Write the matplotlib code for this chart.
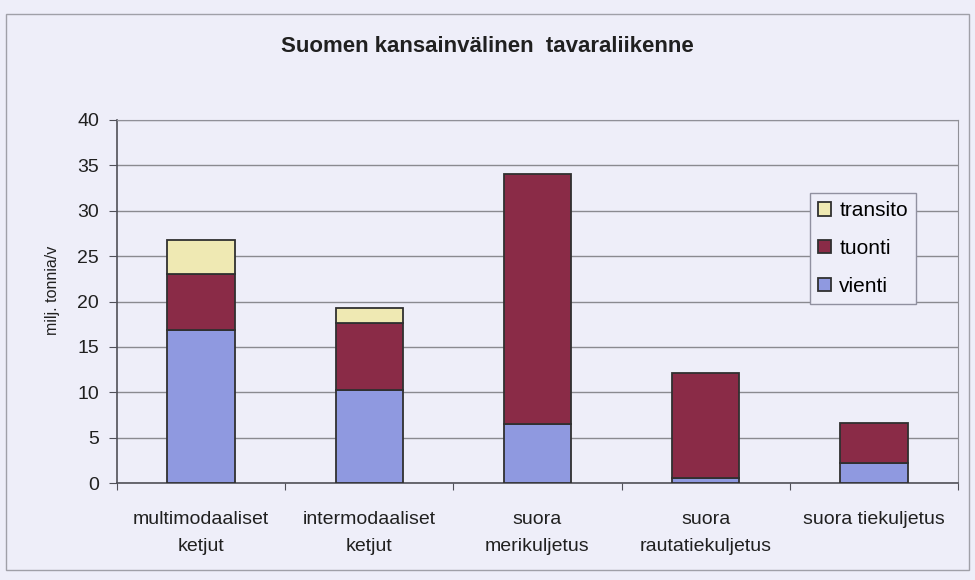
import matplotlib
matplotlib.use("Agg")
import matplotlib.pyplot as plt
from matplotlib.patches import Rectangle
import numpy as np

categories = ["multimodaaliset\nketjut", "intermodaaliset\nketjut", "suora\nmerikuljetus",
              "suora\nrautatiekuljetus", "suora tiekuljetus"]
vienti = [16.9, 10.3, 6.5, 0.5, 2.2]
tuonti = [6.1, 7.3, 27.5, 11.6, 4.4]
transito = [3.8, 1.7, 0.0, 0.0, 0.0]

bg = "#eeeef9"
c_vienti = "#8f99e0"
c_tuonti = "#8a2b47"
c_transito = "#efe9b3"

plt.rcParams["font.family"] = ["Liberation Sans", "DejaVu Sans"]

fig = plt.figure(figsize=(9.75, 5.8), dpi=100, facecolor=bg)
fig.patches.append(Rectangle((0.006, 0.018), 0.988, 0.958, transform=fig.transFigure,
                             fill=False, edgecolor="#a0a0a8", linewidth=1.0))
ax = fig.add_axes([117/975, 1-483/580, (958-117)/975, (483-120)/580])
ax.set_facecolor(bg)

x = np.arange(len(categories))
w = 0.4
kw = dict(width=w, edgecolor="#303030", linewidth=1.3, zorder=3)
b1 = ax.bar(x, vienti, color=c_vienti, label="vienti", **kw)
b2 = ax.bar(x, tuonti, bottom=vienti, color=c_tuonti, label="tuonti", **kw)
bot2 = np.array(vienti) + np.array(tuonti)
tr_x = [xi for xi, t in zip(x, transito) if t > 0]
tr_v = [t for t in transito if t > 0]
tr_b = [b for b, t in zip(bot2, transito) if t > 0]
b3 = ax.bar(tr_x, tr_v, bottom=tr_b, color=c_transito, label="transito", **kw)

ax.set_xlim(-0.5, len(categories) - 0.5)
ax.set_ylim(0, 40)
ax.set_yticks(np.arange(0, 41, 5))
ax.yaxis.grid(True, color="#8a8a90", linewidth=1.0, zorder=0)
ax.set_axisbelow(True)
for s in ["top", "right"]:
    ax.spines[s].set_color("#909098")
for s in ["left", "bottom"]:
    ax.spines[s].set_color("#505058")
    ax.spines[s].set_linewidth(1.2)

ax.set_xticks(np.arange(-0.5, len(categories), 1.0))
ax.set_xticklabels([])
ax.set_xticks(x, minor=True)
ax.set_xticklabels(categories, minor=True, fontsize=14, color="#202020", linespacing=1.8)
ax.tick_params(axis="x", which="minor", length=0, pad=20)
ax.tick_params(axis="x", which="major", length=5, color="#505058")
ax.tick_params(axis="y", labelsize=14, labelcolor="#202020", length=6, color="#505058", pad=7)
ax.set_ylabel("milj. tonnia/v", fontsize=11.5, color="#202020")
ax.yaxis.set_label_coords(-0.068, 0.53)

fig.text(0.5, 1-47/580, "Suomen kansainvälinen  tavaraliikenne", ha="center", va="center",
         fontsize=16, fontweight="bold", color="#202020")

leg = ax.legend(handles=[b3, b2, b1], labels=["transito", "tuonti", "vienti"],
                loc="upper left", bbox_to_anchor=((810-117)/(958-117), (483-193)/(483-120)),
                fontsize=15, frameon=True, fancybox=False, edgecolor="#9090a0",
                facecolor=bg, framealpha=1, handlelength=0.6, handleheight=0.6,
                handletextpad=0.4, labelspacing=0.9, borderpad=0.4, borderaxespad=0)
leg.get_frame().set_linewidth(1.0)
leg.set_zorder(5)

fig.savefig("out.png", dpi=100, facecolor=bg)
